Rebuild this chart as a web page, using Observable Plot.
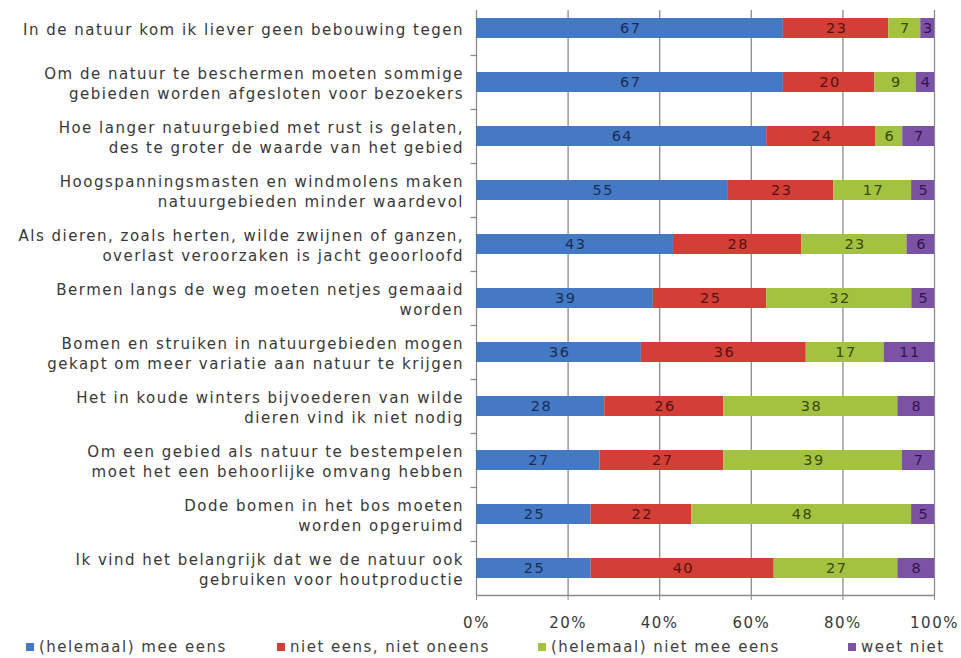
<!DOCTYPE html>
<html><head><meta charset="utf-8">
<script src="https://cdn.jsdelivr.net/npm/d3@7"></script>
<script src="https://cdn.jsdelivr.net/npm/@observablehq/plot@0.6"></script>
<style>
body{margin:0;background:#fff;font-family:"DejaVu Sans",Verdana,sans-serif;}
#chart{position:relative;width:961px;height:658px;overflow:hidden}
#chart svg text{letter-spacing:1.5px}
#legend{position:absolute;top:638px;left:0;width:961px;height:18px;font-size:15px;line-height:18px;color:#404040;letter-spacing:1.5px}
#legend .item{position:absolute;top:0;white-space:nowrap}
#legend .sw{display:inline-block;width:8px;height:8px;margin-right:5px;vertical-align:1px}
</style></head><body><div id="chart"></div>
<script>
const statements = [
  "In de natuur kom ik liever geen bebouwing tegen",
  "Om de natuur te beschermen moeten sommige\ngebieden worden afgesloten voor bezoekers",
  "Hoe langer natuurgebied met rust is gelaten,\ndes te groter de waarde van het gebied",
  "Hoogspanningsmasten en windmolens maken\nnatuurgebieden minder waardevol",
  "Als dieren, zoals herten, wilde zwijnen of ganzen,\noverlast veroorzaken is jacht geoorloofd",
  "Bermen langs de weg moeten netjes gemaaid\nworden",
  "Bomen en struiken in natuurgebieden mogen\ngekapt om meer variatie aan natuur te krijgen",
  "Het in koude winters bijvoederen van wilde\ndieren vind ik niet nodig",
  "Om een gebied als natuur te bestempelen\nmoet het een behoorlijke omvang hebben",
  "Dode bomen in het bos moeten\nworden opgeruimd",
  "Ik vind het belangrijk dat we de natuur ook\ngebruiken voor houtproductie"
];
const series = ["(helemaal) mee eens", "niet eens, niet oneens", "(helemaal) niet mee eens", "weet niet"];
const meeEens            = [67, 67, 64, 55, 43, 39, 36, 28, 27, 25, 25];
const nietEensNietOneens = [23, 20, 24, 23, 28, 25, 36, 26, 27, 22, 40];
const nietMeeEens        = [ 7,  9,  6, 17, 23, 32, 17, 38, 39, 48, 27];
const weetNiet           = [ 3,  4,  7,  5,  6,  5, 11,  8,  7,  5,  8];
const xTickLabels = ["0%", "20%", "40%", "60%", "80%", "100%"];

const colors = ["#4579C4", "#D33E37", "#A3C23F", "#7C52A5"];
const labelColors = ["#172E57", "#561210", "#3A4812", "#2E1552"];
const gridColor = "#8c8c8c";

const valuesBySeries = [meeEens, nietEensNietOneens, nietMeeEens, weetNiet];
const data = [];
statements.forEach((s, i) => {
  series.forEach((k, j) => {
    data.push({statement: s, series: k, value: valuesBySeries[j][i], si: j});
  });
});
const xTicks = xTickLabels.map(t => parseFloat(t) / 100);

const chart = Plot.plot({
  width: 961,
  height: 632,
  marginLeft: 476,
  marginRight: 27,
  marginTop: 1,
  marginBottom: 37,
  style: {fontFamily: "'DejaVu Sans', Verdana, sans-serif", background: "#fff"},
  x: {domain: [0, 1], ticks: xTicks, tickFormat: d => xTickLabels[xTicks.indexOf(d)]},
  y: {domain: statements, paddingInner: 0.63, paddingOuter: 0.315},
  color: {domain: series, range: colors},
  marks: [
    Plot.ruleX(xTicks, {stroke: gridColor, strokeWidth: 1.3, insetTop: 9}),
    Plot.ruleY(statements.slice(1), {y: d => d, x1: -0.012, x2: 0, dy: -27, stroke: gridColor, strokeWidth: 1.3}),
    Plot.ruleY([statements[statements.length - 1]], {y: d => d, x1: 0, x2: 1, dy: 27, stroke: gridColor, strokeWidth: 1.3}),
    Plot.barX(data, Plot.stackX({offset: "normalize", x: "value", y: "statement", fill: "series", order: null})),
    Plot.text(data, Plot.stackX({offset: "normalize", x: "value", y: "statement", text: d => String(d.value), order: null,
      fill: {value: d => labelColors[d.si], scale: null}, fontSize: 14.5, dx: 0.75})),
    Plot.axisY({tickSize: 0, tickPadding: 12.5, fontSize: 15, lineHeight: 1.35, fill: "#383838", label: null}),
    Plot.axisX({ticks: xTicks, tickSize: 5, tickPadding: 17, fontSize: 15, fill: "#383838", stroke: gridColor, label: null,
      tickFormat: d => xTickLabels[xTicks.indexOf(d)]})
  ]
});
const container = document.getElementById("chart");
container.appendChild(chart);

const legendPos = [26, 277, 538, 848];
const legend = document.createElement("div");
legend.id = "legend";
series.forEach((s, i) => {
  const item = document.createElement("span");
  item.className = "item";
  item.style.left = legendPos[i] + "px";
  const sw = document.createElement("span");
  sw.className = "sw";
  sw.style.background = colors[i];
  item.appendChild(sw);
  item.appendChild(document.createTextNode(s));
  legend.appendChild(item);
});
container.appendChild(legend);
</script>
</body></html>
